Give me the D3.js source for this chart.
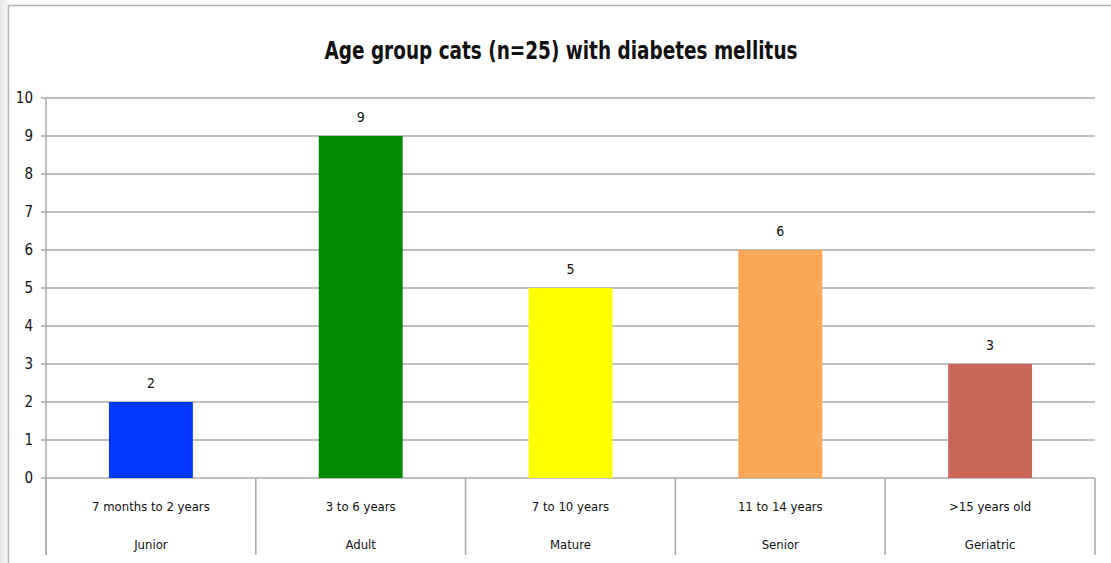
<!DOCTYPE html>
<html>
<head>
<meta charset="utf-8">
<script src="https://cdn.jsdelivr.net/npm/d3@7"></script>
<style>
  body { margin: 0; background: #fff; }
  text { font-family: "Liberation Sans Narrow", "DejaVu Sans Condensed", "Open Sans", sans-serif; fill: #111; }
</style>
</head>
<body>
<div id="chart"></div>
<script>
// data
var ranges = ["7 months to 2 years", "3 to 6 years", "7 to 10 years", "11 to 14 years", ">15 years old"];
var groups = ["Junior", "Adult", "Mature", "Senior", "Geriatric"];
var counts = [2, 9, 5, 6, 3];
var barColours = ["#0538ff", "#008a00", "#ffff00", "#f9a857", "#cb665a"];
var yTicks = [0, 1, 2, 3, 4, 5, 6, 7, 8, 9, 10];
var title = "Age group cats (n=25) with diabetes mellitus";

var width = 1111, height = 563;
var margin = {left: 46, right: 16, top: 98, bottom: 85};
var gridCol = "#aaaaaa";

var svg = d3.select("#chart")
  .append("svg")
  .attr("width", width)
  .attr("height", height);

// faint shadow on left edge + frame
var grad = svg.append("defs").append("linearGradient").attr("id", "shade");
grad.append("stop").attr("offset", "0%").attr("stop-color", "#e8e4e6");
grad.append("stop").attr("offset", "100%").attr("stop-color", "#f8f6f7");
svg.append("rect").attr("x", 0).attr("y", 0).attr("width", 8).attr("height", height).attr("fill", "url(#shade)");
svg.append("line").attr("x1", 8.5).attr("x2", 8.5).attr("y1", 5).attr("y2", height).attr("stroke", "#b4b4b4").attr("stroke-width", 1.5);
svg.append("line").attr("x1", 8).attr("x2", width).attr("y1", 5.5).attr("y2", 5.5).attr("stroke", "#b4b4b4").attr("stroke-width", 1.5);

var x = d3.scaleBand()
  .domain(groups)
  .range([margin.left, width - margin.right])
  .paddingInner(0.6)
  .paddingOuter(0.3);

var band = d3.scaleBand()
  .domain(groups)
  .range([margin.left, width - margin.right]);

var y = d3.scaleLinear()
  .domain([0, 10])
  .range([height - margin.bottom, margin.top]);

// gridlines
svg.append("g")
  .selectAll("line")
  .data(yTicks)
  .enter()
  .append("line")
  .attr("x1", margin.left - 5)
  .attr("x2", width - margin.right)
  .attr("y1", function(d) { return y(d); })
  .attr("y2", function(d) { return y(d); })
  .attr("stroke", gridCol)
  .attr("stroke-width", 1.5);

// y axis line
svg.append("line")
  .attr("x1", margin.left).attr("x2", margin.left)
  .attr("y1", y(10)).attr("y2", height - 8)
  .attr("stroke", gridCol).attr("stroke-width", 1.5);

// y tick labels
svg.append("g")
  .selectAll("text")
  .data(yTicks)
  .enter()
  .append("text")
  .attr("x", margin.left - 13)
  .attr("y", function(d) { return y(d); })
  .attr("dy", "0.35em")
  .attr("text-anchor", "end")
  .style("font-size", "15px")
  .text(function(d) { return d; });

// category separators below axis
var seps = groups.map(function(g) { return band(g); }).concat([width - margin.right]);
svg.append("g")
  .selectAll("line")
  .data(seps)
  .enter()
  .append("line")
  .attr("x1", function(d) { return d; })
  .attr("x2", function(d) { return d; })
  .attr("y1", y(0))
  .attr("y2", height - 8)
  .attr("stroke", gridCol)
  .attr("stroke-width", 1.5);

// bars
svg.append("g")
  .selectAll("rect")
  .data(counts)
  .enter()
  .append("rect")
  .attr("x", function(d, i) { return x(groups[i]); })
  .attr("y", function(d) { return y(d); })
  .attr("width", x.bandwidth())
  .attr("height", function(d) { return y(0) - y(d); })
  .attr("fill", function(d, i) { return barColours[i]; });

// value labels
svg.append("g")
  .selectAll("text")
  .data(counts)
  .enter()
  .append("text")
  .attr("x", function(d, i) { return x(groups[i]) + x.bandwidth() / 2; })
  .attr("y", function(d) { return y(d) - 14; })
  .attr("text-anchor", "middle")
  .style("font-size", "14px")
  .text(function(d) { return d; });

// category labels, two rows
svg.append("g")
  .selectAll("text")
  .data(ranges)
  .enter()
  .append("text")
  .attr("x", function(d, i) { return band(groups[i]) + band.bandwidth() / 2; })
  .attr("y", 511)
  .attr("text-anchor", "middle")
  .style("font-size", "13px")
  .text(function(d) { return d; });

svg.append("g")
  .selectAll("text")
  .data(groups)
  .enter()
  .append("text")
  .attr("x", function(d) { return band(d) + band.bandwidth() / 2; })
  .attr("y", 549)
  .attr("text-anchor", "middle")
  .style("font-size", "13px")
  .text(function(d) { return d; });

// title
svg.append("text")
  .attr("x", 561)
  .attr("y", 59)
  .attr("text-anchor", "middle")
  .attr("textLength", 473)
  .attr("lengthAdjust", "spacingAndGlyphs")
  .style("font-size", "25px")
  .style("font-weight", "bold")
  .text(title);
</script>
</body>
</html>
